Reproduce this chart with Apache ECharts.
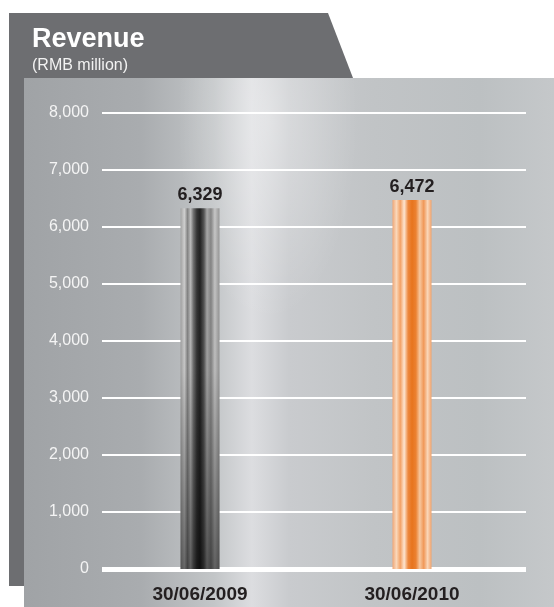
<!DOCTYPE html>
<html>
<head>
<meta charset="utf-8">
<script src="https://cdn.jsdelivr.net/npm/echarts@6/dist/echarts.min.js"></script>
<style>
  html, body { margin: 0; padding: 0; background: #fff; }
  #wrap { position: relative; width: 554px; height: 607px; overflow: hidden; }
  #head { position: absolute; left: 9px; top: 13px; width: 345px; height: 573px; background: #6d6e71;
    clip-path: polygon(0 0, 319px 0, 344px 65px, 344px 573px, 0 573px); }
  #panel { position: absolute; left: 24px; top: 78px; width: 530px; height: 529px;
    background:
      radial-gradient(ellipse 90px 200px at 46% 8%, rgba(255,255,255,0.35), rgba(255,255,255,0) 100%),
      linear-gradient(90deg, #a0a3a6 0%, #a9acaf 22%, #c3c6c8 36%, #dcdde0 43%, #c9cbce 50%, #c1c4c6 66%, #bcc0c2 86%, #c5c8ca 100%); }
  #chart { position: absolute; left: 0; top: 0; width: 554px; height: 607px; }
</style>
</head>
<body>
<div id="wrap">
  <div id="head"></div>
  <div id="panel"></div>
  <div id="chart"></div>
</div>
<script>
const categories = ["30/06/2009", "30/06/2010"];
const revenue = [6329, 6472];
const yTicks = { min: 0, max: 8000, interval: 1000 };

const steelBar = {
  type: "linear", x: 0, y: 0, x2: 1, y2: 0,
  colorStops: [
    { offset: 0, color: "#a4a4a4" }, { offset: 0.1, color: "#cfcfcf" }, { offset: 0.18, color: "#868686" },
    { offset: 0.26, color: "#bcbcbc" }, { offset: 0.33, color: "#717171" }, { offset: 0.42, color: "#353535" },
    { offset: 0.5, color: "#222" }, { offset: 0.6, color: "#555" }, { offset: 0.68, color: "#a8a8a8" },
    { offset: 0.78, color: "#858585" }, { offset: 0.88, color: "#c6c6c6" }, { offset: 1, color: "#979797" }
  ]
};
const copperBar = {
  type: "linear", x: 0, y: 0, x2: 1, y2: 0,
  colorStops: [
    { offset: 0, color: "#efa675" }, { offset: 0.1, color: "#fad8bb" }, { offset: 0.2, color: "#f3a266" },
    { offset: 0.3, color: "#fde5d0" }, { offset: 0.4, color: "#ed883e" }, { offset: 0.5, color: "#e7741d" },
    { offset: 0.6, color: "#eb8131" }, { offset: 0.7, color: "#f7c79e" }, { offset: 0.8, color: "#f09858" },
    { offset: 0.9, color: "#fad7b9" }, { offset: 1, color: "#efa26c" }
  ]
};
// darkens the steel bar toward its foot
const shade = {
  type: "linear", x: 0, y: 0, x2: 0, y2: 1,
  colorStops: [{ offset: 0, color: "rgba(0,0,0,0)" }, { offset: 0.45, color: "rgba(0,0,0,0.05)" }, { offset: 1, color: "rgba(0,0,0,0.5)" }]
};

const chart = echarts.init(document.getElementById("chart"), null, { renderer: "canvas" });
chart.setOption({
  backgroundColor: "transparent",
  animation: false,
  title: {
    text: "Revenue",
    subtext: "(RMB million)",
    left: 27, top: 21, itemGap: 5,
    textStyle: { color: "#fff", fontSize: 27, fontWeight: "bold", fontFamily: "Liberation Sans" },
    subtextStyle: { color: "#f2f2f2", fontSize: 16, fontFamily: "Liberation Sans" }
  },
  grid: [
    { left: 102, right: 28, top: 113, bottom: 38 },
    { left: 94, right: 36, top: 113, bottom: 38 }
  ],
  xAxis: [
    {
      gridIndex: 0, type: "category", data: categories,
      axisLine: { lineStyle: { color: "#fff", width: 5, cap: "butt" } },
      axisTick: { show: false }, axisLabel: { show: false }, splitLine: { show: false }
    },
    {
      gridIndex: 1, type: "category", data: categories,
      axisLine: { show: false }, axisTick: { show: false },
      axisLabel: { color: "#231f20", fontSize: 19, fontWeight: "bold", fontFamily: "Liberation Sans", margin: 16 }
    }
  ],
  yAxis: [
    {
      gridIndex: 0, type: "value", min: yTicks.min, max: yTicks.max, interval: yTicks.interval,
      axisLine: { show: false }, axisTick: { show: false },
      axisLabel: { color: "#f4f4f4", fontSize: 16, fontFamily: "Liberation Sans", margin: 13,
        formatter: v => v.toLocaleString("en-US") },
      splitLine: { lineStyle: { color: "#fff", width: 2 } }
    },
    {
      gridIndex: 1, type: "value", min: yTicks.min, max: yTicks.max, interval: yTicks.interval,
      show: false, splitLine: { show: false }
    }
  ],
  series: [
    {
      type: "bar", xAxisIndex: 1, yAxisIndex: 1, barWidth: 39, barGap: "-100%",
      data: revenue.map((v, i) => ({ value: v, itemStyle: { color: i === 0 ? steelBar : copperBar } })),
      label: {
        show: true, position: "top", distance: 4, color: "#231f20", fontSize: 18, fontWeight: "bold",
        fontFamily: "Liberation Sans", formatter: p => p.value.toLocaleString("en-US")
      }
    },
    {
      type: "bar", xAxisIndex: 1, yAxisIndex: 1, barWidth: 39, barGap: "-100%", silent: true,
      data: revenue.map((v, i) => (i === 0 ? v : "-")),
      itemStyle: { color: shade }
    }
  ]
});
</script>
</body>
</html>
